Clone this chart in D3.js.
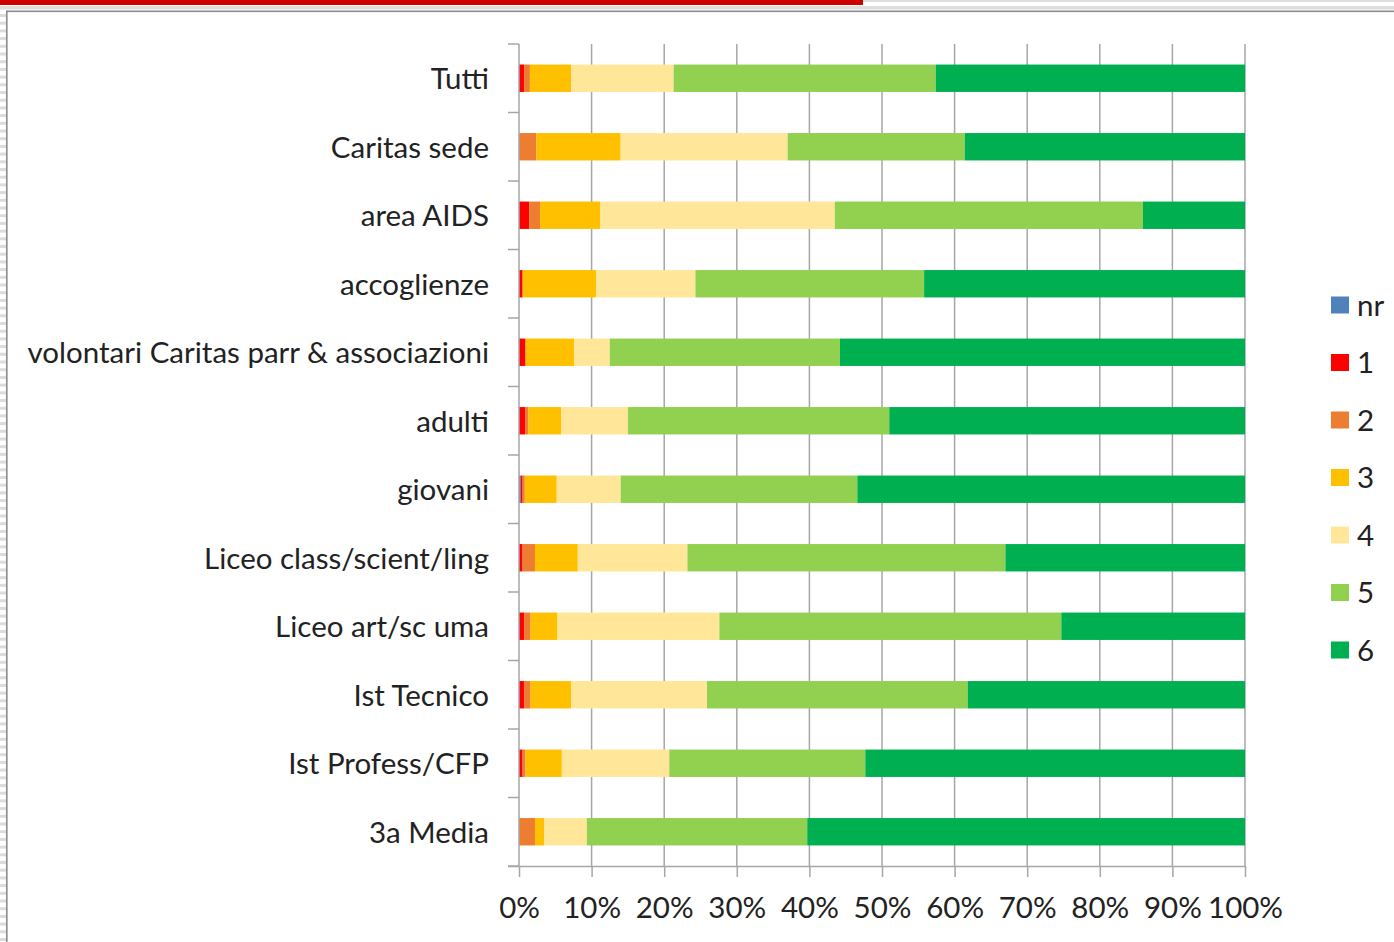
<!DOCTYPE html>
<html lang="it">
  <head>
    <script src="https://d3js.org/d3.v7.min.js"></script>
    <meta charset="utf-8">
    <title></title>
    <style>
      body { margin: 0; background: #fff; }
      text { font-family: Lato, "Noto Sans", sans-serif; fill: #222; }
    </style>
  </head>
  <body>
    <svg id="chart"></svg>
    <script type="text/javascript">

    // categories, top to bottom
    var categories = ["Tutti", "Caritas sede", "area AIDS", "accoglienze",
      "volontari Caritas parr & associazioni", "adulti", "giovani",
      "Liceo class/scient/ling", "Liceo art/sc uma", "Ist Tecnico",
      "Ist Profess/CFP", "3a Media"];

    // percentage of answers per score
    var nr  = [0, 0, 0, 0, 0, 0, 0.25, 0, 0, 0, 0, 0];
    var s1  = [0.7, 0, 1.4, 0.5, 0.9, 0.9, 0.25, 0.5, 0.7, 0.7, 0.5, 0];
    var s2  = [0.8, 2.4, 1.5, 0, 0, 0.4, 0.3, 1.7, 0.9, 0.9, 0.4, 2.2];
    var s3  = [5.7, 11.6, 8.3, 10.1, 6.7, 4.5, 4.4, 5.9, 3.7, 5.6, 5.0, 1.3];
    var s4  = [14.1, 23.0, 32.3, 13.7, 4.9, 9.2, 8.8, 15.1, 22.3, 18.7, 14.8, 5.85];
    var s5  = [36.1, 24.4, 42.45, 31.5, 31.7, 36.0, 32.6, 43.8, 47.1, 35.9, 27.0, 30.35];
    var s6  = [42.6, 38.6, 14.05, 44.2, 55.8, 49.0, 53.4, 33.0, 25.3, 38.2, 52.3, 60.3];

    var seriesNames = ["nr", "1", "2", "3", "4", "5", "6"];
    var seriesValues = [nr, s1, s2, s3, s4, s5, s6];
    var colors = ["#4f81bd", "#ff0000", "#ed7d31", "#ffc000", "#ffe699", "#92d050", "#00b050"];
    var xTicks = [0, 0.1, 0.2, 0.3, 0.4, 0.5, 0.6, 0.7, 0.8, 0.9, 1];

    var width = 1394;
    var height = 942;
    var fontSize = 29.5;

    var svg = d3.select("#chart")
      .attr("width", width)
      .attr("height", height);

    // slide frame bits
    svg.append("rect").attr("x", 863).attr("y", 0).attr("width", width - 863).attr("height", 2).attr("fill", "#dedede");
    svg.append("rect").attr("x", 0).attr("y", 0).attr("width", 863).attr("height", 5).attr("fill", "#cc0000");
    svg.append("rect").attr("x", 0).attr("y", 6).attr("width", width).attr("height", 3.5).attr("fill", "#dedede");
    svg.append("rect").attr("x", 7).attr("y", 10.5).attr("width", width - 7).attr("height", 1.6).attr("fill", "#8c8c8c");
    svg.append("rect").attr("x", 6).attr("y", 10.5).attr("width", 1.6).attr("height", height).attr("fill", "#8c8c8c");
    svg.append("g").selectAll("rect")
      .data(d3.range(14, height, 7.7))
      .enter()
      .append("rect")
      .attr("x", 0)
      .attr("y", function(d) { return d; })
      .attr("width", 6)
      .attr("height", 3)
      .attr("fill", "#dcdcdc");

    // table for d3.stack
    var table = categories.map(function(c, i) {
      var row = { cat: c };
      seriesNames.forEach(function(k, j) { row[k] = seriesValues[j][i] / 100; });
      return row;
    });
    var stacked = d3.stack().keys(seriesNames)(table);

    var plotTop = 44, plotBottom = 866;
    var x = d3.scaleLinear().domain([0, 1]).range([519, 1245]);
    var y = d3.scaleBand().domain(categories).range([plotTop, plotBottom]).paddingInner(0.6).paddingOuter(0.3);

    // vertical gridlines
    svg.append("g").selectAll("line")
      .data(xTicks.slice(1))
      .enter()
      .append("line")
      .attr("x1", function(d) { return x(d); })
      .attr("x2", function(d) { return x(d); })
      .attr("y1", plotTop)
      .attr("y2", plotBottom)
      .attr("stroke", "#a6a6a6")
      .attr("stroke-width", 1.5);

    // bars
    svg.append("g").selectAll("g")
      .data(stacked)
      .enter()
      .append("g")
      .attr("fill", function(d, i) { return colors[i]; })
      .selectAll("rect")
      .data(function(d) { return d; })
      .enter()
      .append("rect")
      .attr("x", function(d) { return x(d[0]); })
      .attr("y", function(d) { return y(d.data.cat); })
      .attr("width", function(d) { return x(d[1]) - x(d[0]); })
      .attr("height", y.bandwidth());

    // x axis
    var xAxis = svg.append("g")
      .attr("transform", "translate(0," + plotBottom + ")")
      .call(d3.axisBottom(x).tickValues(xTicks).tickFormat(d3.format(".0%")).tickSize(11).tickSizeOuter(0).tickPadding(20));
    xAxis.select(".domain").attr("stroke", "#a6a6a6").attr("stroke-width", 1.5).attr("d", "M508,0.5H1245");
    xAxis.selectAll(".tick line").attr("stroke", "#a6a6a6").attr("stroke-width", 1.5);
    xAxis.selectAll(".tick text").attr("font-size", fontSize).attr("font-family", "Lato").attr("fill", "#222");

    // y axis line + category boundary ticks
    svg.append("line")
      .attr("x1", 519).attr("x2", 519).attr("y1", plotTop).attr("y2", plotBottom)
      .attr("stroke", "#a6a6a6").attr("stroke-width", 1.5);
    var step = y.step();
    svg.append("g").selectAll("line")
      .data(d3.range(categories.length + 1))
      .enter()
      .append("line")
      .attr("x1", 508)
      .attr("x2", 519)
      .attr("y1", function(i) { return plotTop + i * step; })
      .attr("y2", function(i) { return plotTop + i * step; })
      .attr("stroke", "#a6a6a6")
      .attr("stroke-width", 1.5);

    // category labels
    svg.append("g").selectAll("text")
      .data(categories)
      .enter()
      .append("text")
      .attr("x", 489)
      .attr("y", function(d) { return y(d) + y.bandwidth() / 2; })
      .attr("dy", "0.38em")
      .attr("text-anchor", "end")
      .attr("font-size", fontSize)
      .text(function(d) { return d; });

    // legend
    var legend = svg.append("g").attr("class", "legend");
    legend.selectAll("g")
      .data(seriesNames)
      .enter()
      .append("g")
      .each(function(d, i) {
        var g = d3.select(this);
        var cy = 305 + i * 57.5;
        g.append("rect")
          .attr("x", 1331)
          .attr("y", cy - 8.5)
          .attr("width", 18)
          .attr("height", 17)
          .attr("fill", colors[i]);
        g.append("text")
          .attr("x", 1357)
          .attr("y", cy)
          .attr("dy", "0.36em")
          .attr("font-size", fontSize)
          .text(d);
      });

    </script>
  </body>
</html>
